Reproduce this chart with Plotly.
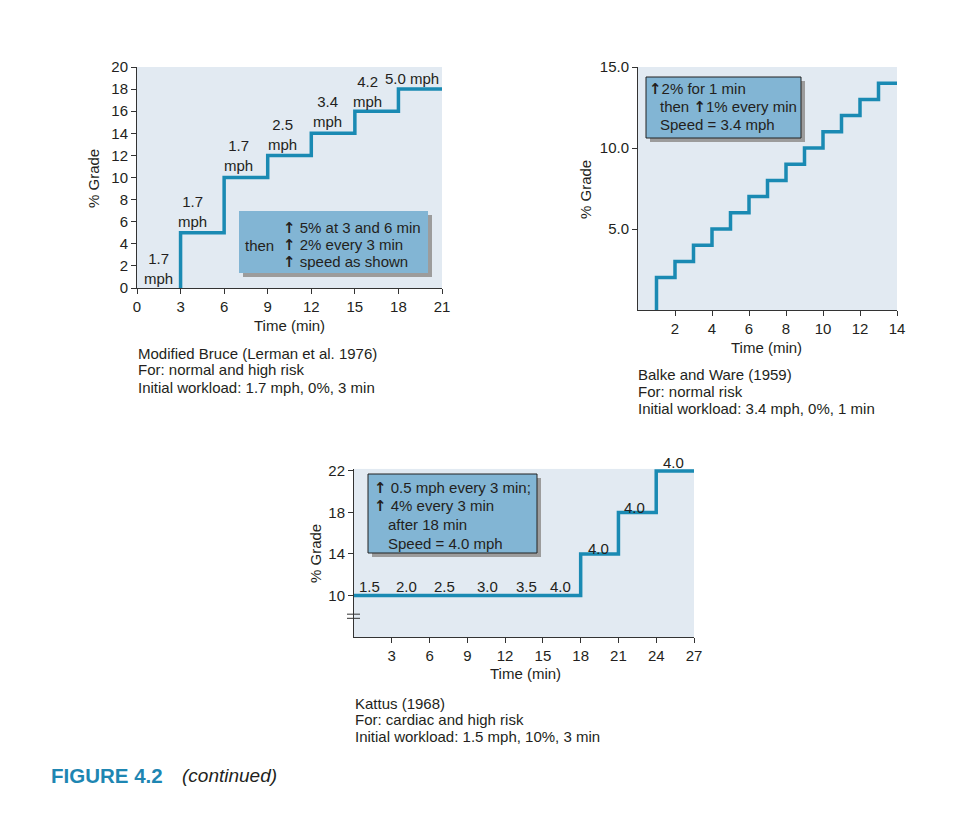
import plotly.graph_objects as go

W, H = 974, 813
PAGE_OFF = 8  # default body margin of the html page

# ---------------- data ----------------
# Modified Bruce
bruce_time = [3, 3, 6, 9, 12, 15, 18, 21]
bruce_grade = [0, 5, 10, 12, 14, 16, 18, 18]
bruce_lbl_text = ["1.7<br>mph", "1.7<br>mph", "1.7<br>mph", "2.5<br>mph", "3.4<br>mph", "4.2<br>mph", "5.0 mph"]
bruce_lbl_x = [1.45, 3.8, 7.0, 10.0, 13.1, 15.9, 18.9]
bruce_lbl_y = [1.8, 6.95, 12.0, 13.9, 15.95, 17.8, 19.0]
bruce_xticks = [0, 3, 6, 9, 12, 15, 18, 21]
bruce_yticks = [0, 2, 4, 6, 8, 10, 12, 14, 16, 18, 20]

# Balke and Ware
balke_time = [1, 1, 2, 3, 4, 5, 6, 7, 8, 9, 10, 11, 12, 13, 14]
balke_grade = [0, 2, 3, 4, 5, 6, 7, 8, 9, 10, 11, 12, 13, 14, 14]
balke_xticks = [2, 4, 6, 8, 10, 12, 14]
balke_yticks = [5, 10, 15]
balke_yticklabels = ["5.0", "10.0", "15.0"]

# Kattus
kattus_time = [0, 18, 21, 24, 27]
kattus_grade = [10, 14, 18, 22, 22]
kattus_lbl_text = ["1.5", "2.0", "2.5", "3.0", "3.5", "4.0", "4.0", "4.0", "4.0"]
kattus_lbl_x = [1.2, 4.15, 7.2, 10.6, 13.7, 16.4, 19.4, 22.3, 25.4]
kattus_lbl_y = [10.9, 10.9, 10.9, 10.9, 10.9, 10.9, 14.5, 18.5, 22.0]
kattus_xticks = [3, 6, 9, 12, 15, 18, 21, 24, 27]
kattus_yticks = [10, 14, 18, 22]

FONT = "Liberation Sans, Arial, sans-serif"
TXT = "#231f20"
LINE = "#1a8ab3"
BG = "#e2eaf2"
BOX = "#82b5d4"
SHADOW = "#9c9c9c"
FS = 15
ARW = '<span style="font-family:DejaVu Sans;font-weight:bold">↑</span>'


def px(x):
    return (x - PAGE_OFF) / W


def py(y):
    return 1 - (y - PAGE_OFF) / H


fig = go.Figure()
fig.add_trace(go.Scatter(x=bruce_time, y=bruce_grade, mode="lines", line=dict(color=LINE, width=3.5, shape="hv"),
                         xaxis="x", yaxis="y", showlegend=False, hoverinfo="skip"))
fig.add_trace(go.Scatter(x=balke_time, y=balke_grade, mode="lines", line=dict(color=LINE, width=3.5, shape="hv"),
                         xaxis="x2", yaxis="y2", showlegend=False, hoverinfo="skip"))
fig.add_trace(go.Scatter(x=kattus_time, y=kattus_grade, mode="lines", line=dict(color=LINE, width=3.5, shape="hv"),
                         xaxis="x3", yaxis="y3", showlegend=False, hoverinfo="skip"))

ax_common = dict(showline=True, linecolor="#333333", linewidth=1, ticks="outside", ticklen=5,
                 tickcolor="#333333", tickwidth=1, showgrid=False, zeroline=False, automargin=False,
                 tickfont=dict(family=FONT, size=FS, color=TXT), fixedrange=True)

# Kattus y range extended a hair so the top step is not clipped
k_top_px, k_bot_px = 471, 637
k_span = (k_bot_px - k_top_px) / 16.0  # px per % grade
k_extra = 0.2

fig.update_layout(
    width=W, height=H, margin=dict(l=0, r=0, t=0, b=0, autoexpand=False),
    paper_bgcolor="white", plot_bgcolor=BG, showlegend=False,
    font=dict(family=FONT, size=FS, color=TXT),
    xaxis=dict(domain=[px(137), px(442)], range=[0, 21], tickvals=bruce_xticks, anchor="y", **ax_common),
    yaxis=dict(domain=[py(288), py(67)], range=[0, 20], tickvals=bruce_yticks, anchor="x", **ax_common),
    xaxis2=dict(domain=[px(638), px(897)], range=[0, 14], tickvals=balke_xticks, anchor="y2", **ax_common),
    yaxis2=dict(domain=[py(310), py(67)], range=[0, 15], tickvals=balke_yticks, ticktext=balke_yticklabels,
                anchor="x2", **ax_common),
    xaxis3=dict(domain=[px(354), px(694)], range=[0, 27], tickvals=kattus_xticks, anchor="y3", **ax_common),
    yaxis3=dict(domain=[py(k_bot_px), py(k_top_px - k_extra * k_span)], range=[6, 22 + k_extra],
                tickvals=kattus_yticks, anchor="x3", **ax_common),
)

shapes = []
ann = []


def box(x0, y0, x1, y1, border):
    shapes.append(dict(type="rect", xref="paper", yref="paper", x0=px(x0 + 4), x1=px(x1 + 4), y0=py(y1 + 4), y1=py(y0 + 4),
                       fillcolor=SHADOW, line=dict(width=0), layer="above"))
    shapes.append(dict(type="rect", xref="paper", yref="paper", x0=px(x0), x1=px(x1), y0=py(y1), y1=py(y0),
                       fillcolor=BOX, line=dict(width=1 if border else 0, color="#222222"), layer="above"))


def text(x, y, s, size=FS, xanchor="left", **kw):
    ann.append(dict(xref="paper", yref="paper", x=px(x), y=py(y), text=s, showarrow=False,
                    xanchor=xanchor, yanchor="middle", font=dict(family=FONT, size=size, color=kw.pop("color", TXT)), **kw))


# stage labels
for t, x, y in zip(bruce_lbl_text, bruce_lbl_x, bruce_lbl_y):
    ann.append(dict(xref="x", yref="y", x=x, y=y, text=t, showarrow=False, xanchor="center", yanchor="middle",
                    font=dict(family=FONT, size=FS, color=TXT)))
for i, (t, x, y) in enumerate(zip(kattus_lbl_text, kattus_lbl_x, kattus_lbl_y)):
    top = i == len(kattus_lbl_text) - 1
    ann.append(dict(xref="x3", yref="y3", x=x, y=y, text=t, showarrow=False, xanchor="center",
                    yanchor="bottom" if top else "middle", yshift=-2 if top else 0,
                    font=dict(family=FONT, size=FS, color=TXT)))

# boxes
box(239, 211, 428, 273, False)
text(243, 245, "then")
text(281, 228, ARW + " 5% at 3 and 6 min")
text(281, 245, ARW + " 2% every 3 min")
text(281, 262, ARW + " speed as shown")

box(646, 77, 801, 138, True)
text(647, 89, ARW + "2% for 1 min")
text(658, 107, "then " + ARW + "1% every min")
text(658, 124, "Speed = 3.4 mph")

box(368, 474, 537, 553, True)
text(372, 488, ARW + " 0.5 mph every 3 min;")
text(372, 506, ARW + " 4% every 3 min")
text(386, 524, "after 18 min")
text(386, 543, "Speed = 4.0 mph")

# axis titles
text(289, 325, "Time (min)", xanchor="center")
text(766, 347, "Time (min)", xanchor="center")
text(525, 673, "Time (min)", xanchor="center")
text(93, 179, "% Grade", xanchor="center", textangle=-90)
text(586, 190, "% Grade", xanchor="center", textangle=-90)
text(315, 554, "% Grade", xanchor="center", textangle=-90)

# captions
text(136, 353, "Modified Bruce (Lerman et al. 1976)")
text(136, 370, "For: normal and high risk")
text(136, 387, "Initial workload: 1.7 mph, 0%, 3 min")
text(636, 374, "Balke and Ware (1959)")
text(636, 391, "For: normal risk")
text(636, 408, "Initial workload: 3.4 mph, 0%, 1 min")
text(353, 703, "Kattus (1968)")
text(353, 719, "For: cardiac and high risk")
text(353, 736, "Initial workload: 1.5 mph, 10%, 3 min")

text(49, 775, "<b>FIGURE 4.2</b>", size=20.5, color="#1e86b2")
text(180, 775, "<i>(continued)</i>", size=19)

# axis break marks on Kattus y-axis
for yv in [8.2, 7.8]:
    shapes.append(dict(type="line", xref="paper", yref="y3", x0=px(347), x1=px(360), y0=yv, y1=yv,
                       line=dict(color="#333333", width=1)))

fig.update_layout(shapes=shapes, annotations=ann)
fig.write_html("out.html")
